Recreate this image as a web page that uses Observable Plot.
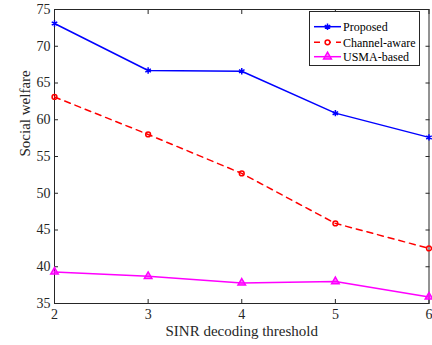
<!DOCTYPE html>
<html><head><meta charset="utf-8">
<script src="https://cdn.jsdelivr.net/npm/d3@7"></script>
<script src="https://cdn.jsdelivr.net/npm/@observablehq/plot@0.6"></script>
<style>body{margin:0;background:#fff}</style>
</head><body><div id="chart"></div>
<script>
const thresholds = [2, 3, 4, 5, 6];
const proposed = [73.1, 66.7, 66.6, 60.9, 57.6];
const channelAware = [63.1, 58.0, 52.7, 45.9, 42.5];
const usmaBased = [39.3, 38.7, 37.8, 38.0, 35.9];
const seriesNames = ["Proposed", "Channel-aware", "USMA-based"];
const seriesColors = ["#0000ff", "#ff0000", "#ff00ff"];
const xTicks = [2, 3, 4, 5, 6];
const yTicks = [35, 40, 45, 50, 55, 60, 65, 70, 75];
const xLabel = "SINR decoding threshold";
const yLabel = "Social welfare";

const mk = (vals) => thresholds.map((x, i) => ({x, y: vals[i]}));
const dP = mk(proposed), dC = mk(channelAware), dU = mk(usmaBased);
const axisColor = "#262626";
const font = "Liberation Serif";
const T = 4; // inward tick length

const chart = Plot.plot({
  width: 432, height: 345,
  marginLeft: 54, marginRight: 3.5, marginTop: 9, marginBottom: 42,
  style: {fontFamily: font, fontSize: "14px", color: axisColor, background: "#fff"},
  x: {domain: [2, 6]},
  y: {domain: [35, 75]},
  marks: [
    Plot.axisX(xTicks, {anchor: "bottom", tickSize: 0, tickPadding: 6, label: null, fontSize: 14, fill: axisColor}),
    Plot.axisY(yTicks, {anchor: "left", tickSize: 0, tickPadding: 4, label: null, fontSize: 14, fill: axisColor}),
    Plot.axisX(xTicks, {anchor: "bottom", tickSize: T, dy: -T, fill: "none", label: null, stroke: axisColor}),
    Plot.axisX(xTicks, {anchor: "top", tickSize: T, dy: T, fill: "none", label: null, stroke: axisColor}),
    Plot.axisY(yTicks, {anchor: "left", tickSize: T, dx: T, fill: "none", label: null, stroke: axisColor}),
    Plot.axisY(yTicks, {anchor: "right", tickSize: T, dx: -T, fill: "none", label: null, stroke: axisColor}),
    Plot.frame({stroke: axisColor, strokeWidth: 1}),
    Plot.text([xLabel], {frameAnchor: "bottom", dy: 32, fontSize: 15, fill: axisColor}),
    Plot.text([yLabel], {frameAnchor: "left", dx: -29, rotate: -90, fontSize: 15, fill: axisColor}),
    Plot.line(dP, {x: "x", y: "y", stroke: seriesColors[0], strokeWidth: 1.5}),
    Plot.dot(dP, {x: "x", y: "y", symbol: "asterisk", r: 3, stroke: seriesColors[0], strokeWidth: 1.5}),
    Plot.line(dC, {x: "x", y: "y", stroke: seriesColors[1], strokeWidth: 1.5, strokeDasharray: "6,5"}),
    Plot.dot(dC, {x: "x", y: "y", symbol: "circle", r: 2.4, stroke: seriesColors[1], fill: "none", strokeWidth: 1.5}),
    Plot.line(dU, {x: "x", y: "y", stroke: seriesColors[2], strokeWidth: 1.5}),
    Plot.dot(dU, {x: "x", y: "y", symbol: "triangle", r: 2.8, stroke: seriesColors[2], fill: seriesColors[2], fillOpacity: 0.5, strokeWidth: 1.5})
  ]
});

// legend inside the axes (upper right)
const svg = d3.select(chart);
const lg = svg.append("g").attr("font-family", font).attr("font-size", 12).attr("text-anchor", "start");
lg.append("rect").attr("x", 309.5).attr("y", 11.5).attr("width", 110).attr("height", 54)
  .attr("fill", "#fff").attr("stroke", axisColor).attr("stroke-width", 1);
const rowsY = [26.7, 42.3, 56.7];
const dashes = [null, "6,5", null];
const syms = [d3.symbolAsterisk, d3.symbolCircle, d3.symbolTriangle];
const symSizes = [28, 18, 26];
seriesNames.forEach((name, i) => {
  const y = rowsY[i];
  lg.append("line").attr("x1", 314).attr("x2", 341).attr("y1", y).attr("y2", y)
    .attr("stroke", seriesColors[i]).attr("stroke-width", 1.5)
    .attr("stroke-dasharray", dashes[i]);
  lg.append("path").attr("transform", `translate(327.5,${y})`)
    .attr("d", d3.symbol(syms[i], symSizes[i])())
    .attr("stroke", seriesColors[i]).attr("stroke-width", 1.5)
    .attr("fill", i === 2 ? seriesColors[i] : (i === 1 ? "#fff" : "none"))
    .attr("fill-opacity", i === 2 ? 0.5 : 1);
  lg.append("text").attr("x", 343).attr("y", y).attr("dy", "0.35em")
    .attr("fill", "#000").text(name);
});

document.getElementById("chart").appendChild(chart);
</script>
</body></html>
